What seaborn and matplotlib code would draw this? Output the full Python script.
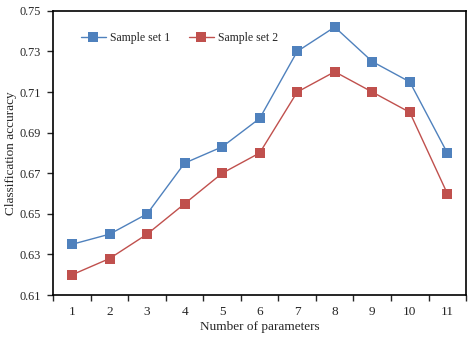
import numpy as np
import pandas as pd
import seaborn as sns
import matplotlib.pyplot as plt
from matplotlib.ticker import FixedLocator

# Data
params_n = list(range(1, 12))
set1 = [0.635, 0.640, 0.650, 0.675, 0.683, 0.697, 0.730, 0.742, 0.725, 0.715, 0.680]
set2 = [0.620, 0.628, 0.640, 0.655, 0.670, 0.680, 0.710, 0.720, 0.710, 0.700, 0.660]
series_names = ['Sample set 1', 'Sample set 2']
y_ticks = [0.61, 0.63, 0.65, 0.67, 0.69, 0.71, 0.73, 0.75]

data = pd.DataFrame({
    'n': params_n * 2,
    'acc': set1 + set2,
    'series': [series_names[0]] * len(set1) + [series_names[1]] * len(set2),
})

sns.set_style('white')
plt.rcParams['font.family'] = ['Liberation Serif', 'DejaVu Serif']
plt.rcParams['font.size'] = 9.5

fig = plt.figure(figsize=(4.75, 3.38), dpi=100)
ax = fig.add_axes([0.1122, 0.127, 0.869, 0.841])

sns.lineplot(data=data, x='n', y='acc', hue='series', style='series',
             markers=['s', 's'], dashes=False,
             palette=['#4F81BD', '#C0504D'], linewidth=1.0,
             markersize=6.5, markeredgewidth=0, ax=ax)

ax.set_xlim(0.5, 11.5)
ax.set_ylim(0.61, 0.75)
ax.set_xticks(params_n)
ax.set_xticklabels([str(i) for i in params_n])
ax.xaxis.set_minor_locator(FixedLocator(np.arange(0.5, 12, 1.0)))
ax.tick_params(axis='x', which='major', length=0, pad=8)
ax.tick_params(axis='x', which='minor', length=4, width=1, direction='out', bottom=True)
ax.set_yticks(y_ticks)
ax.set_yticklabels([f'{v:.2f}' for v in y_ticks])
ax.tick_params(axis='y', length=4, width=1, direction='out', left=True,
               pad=5, labelsize=8.8)

for s in ax.spines.values():
    s.set_color('black')
    s.set_linewidth(1.2)

ax.set_xlabel('Number of parameters', labelpad=2)
ax.set_ylabel('Classification accuracy')
ax.yaxis.set_label_coords(-0.088, 0.5)

leg = ax.legend(loc='center left', bbox_to_anchor=(0.067, 0.905), ncol=2,
                frameon=False, fontsize=8.5, handlelength=2.1,
                columnspacing=1.6, handletextpad=0.35,
                borderpad=0, borderaxespad=0)
leg.set_title(None)

fig.savefig('out.png', dpi=100)
